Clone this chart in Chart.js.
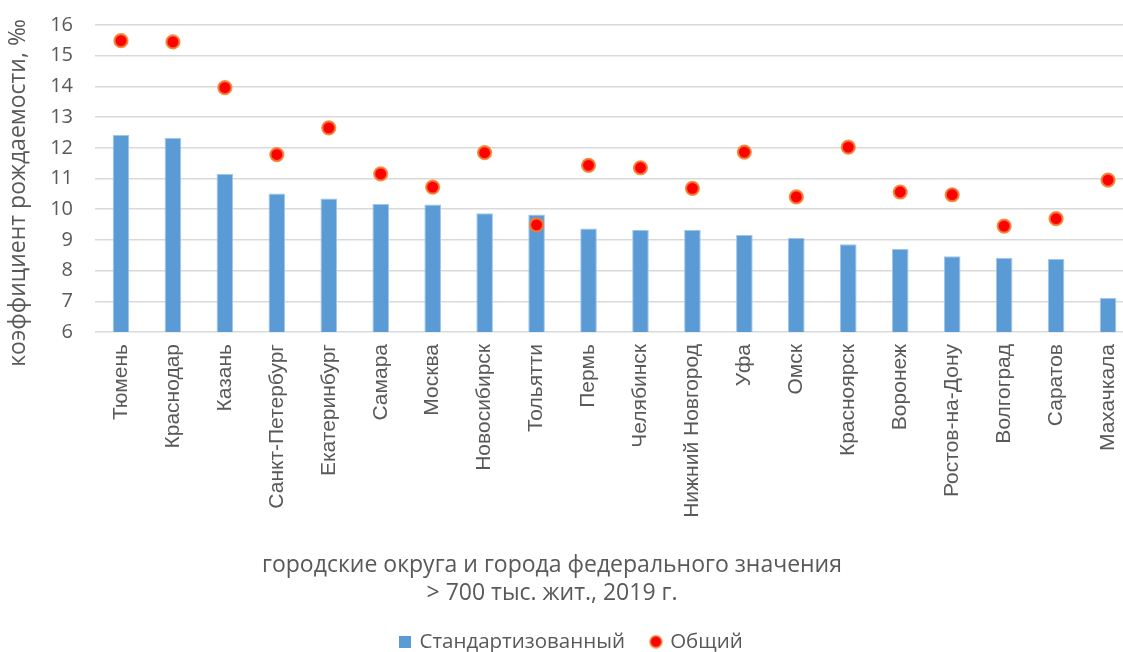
<!DOCTYPE html>
<html>
<head>
<meta charset="utf-8">
<style>
  html, body { margin: 0; padding: 0; background: #fff; overflow: hidden; width: 1123px; height: 652px; }
  #wrap { position: relative; width: 1140px; height: 662px; }
</style>
<script src="https://cdn.jsdelivr.net/npm/chart.js@4.4.1/dist/chart.umd.min.js"></script>
</head>
<body>
<div id="wrap"><canvas id="chart" width="1140" height="662"></canvas></div>
<script>
// Cities (urban districts and federal cities, population > 700k), 2019
const cities = [
  'Тюмень', 'Краснодар', 'Казань', 'Санкт-Петербург', 'Екатеринбург',
  'Самара', 'Москва', 'Новосибирск', 'Тольятти', 'Пермь',
  'Челябинск', 'Нижний Новгород', 'Уфа', 'Омск', 'Красноярск',
  'Воронеж', 'Ростов-на-Дону', 'Волгоград', 'Саратов', 'Махачкала'
];

// Standardized birth rate, per mille
const standardizedRate = [
  12.42, 12.33, 11.15, 10.51, 10.35,
  10.17, 10.15, 9.87, 9.83, 9.37,
  9.33, 9.33, 9.16, 9.06, 8.86,
  8.70, 8.47, 8.42, 8.38, 7.11
];

// Crude (general) birth rate, per mille
const crudeRate = [
  15.49, 15.45, 13.96, 11.78, 12.65,
  11.15, 10.72, 11.84, 9.49, 11.43,
  11.35, 10.68, 11.86, 10.40, 12.02,
  10.56, 10.47, 9.45, 9.69, 10.95
];

const seriesNames = ['Стандартизованный', 'Общий'];
const yAxisRange = [6, 16];
const yTickStep = 1;
const yTitle = 'коэффициент рождаемости, ‰';
const xTitle = ['городские округа и города федерального значения', '> 700 тыс. жит., 2019 г.'];

const TEXT = '#595959';
const BAR_BLUE = '#5B9BD5';
const DOT_RED = '#FF0000';
const DOT_RING = 'rgba(240,128,48,0.85)';
const UI_FONT = '"Open Sans", "Noto Sans", sans-serif';
const LABEL_FONT = '"Liberation Sans", Arial, sans-serif';

// Small legend swatches
function makeSquare(size, color) {
  const c = document.createElement('canvas');
  c.width = size; c.height = size;
  const g = c.getContext('2d');
  g.fillStyle = color;
  g.fillRect(0, 0, size, size);
  return c;
}
function makeDot(size, fill, ring) {
  const c = document.createElement('canvas');
  c.width = size; c.height = size;
  const g = c.getContext('2d');
  g.beginPath();
  g.arc(size / 2, size / 2, size / 2 - 1.2, 0, Math.PI * 2);
  g.fillStyle = fill;
  g.fill();
  g.lineWidth = 1.8;
  g.strokeStyle = ring;
  g.stroke();
  return c;
}
const legendSwatches = [makeSquare(12, BAR_BLUE), makeDot(14, DOT_RED, DOT_RING)];

// Axis titles are drawn free-standing, as in the original layout
const axisTitles = {
  id: 'axisTitles',
  afterDraw(chart) {
    const ctx = chart.ctx;
    ctx.save();
    ctx.fillStyle = TEXT;
    ctx.textAlign = 'center';
    ctx.textBaseline = 'middle';
    ctx.font = '23px ' + UI_FONT;
    ctx.save();
    ctx.translate(18, 193);
    ctx.rotate(-Math.PI / 2);
    ctx.fillText(yTitle, 0, 0);
    ctx.restore();
    ctx.fillText(xTitle[0], 552, 565);
    ctx.fillText(xTitle[1], 552, 593);
    ctx.restore();
  }
};

new Chart(document.getElementById('chart'), {
  type: 'bar',
  data: {
    labels: cities,
    datasets: [
      {
        type: 'line',
        label: seriesNames[1],
        data: crudeRate,
        showLine: false,
        pointRadius: 6.5,
        pointHoverRadius: 6.5,
        pointBackgroundColor: DOT_RED,
        pointBorderColor: DOT_RING,
        pointBorderWidth: 2.2,
        order: 0
      },
      {
        type: 'bar',
        label: seriesNames[0],
        data: standardizedRate,
        backgroundColor: BAR_BLUE,
        borderColor: '#A3C6E8',
        borderWidth: 1,
        categoryPercentage: 1,
        barPercentage: 0.32,
        order: 1
      }
    ]
  },
  options: {
    responsive: false,
    animation: false,
    devicePixelRatio: 1,
    layout: { autoPadding: false, padding: { top: 25, right: 6, left: 10, bottom: 0 } },
    plugins: {
      tooltip: { enabled: false },
      legend: {
        position: 'bottom',
        reverse: true,
        labels: {
          color: TEXT,
          font: { family: UI_FONT, size: 20.5 },
          usePointStyle: true,
          boxWidth: 8,
          padding: 27,
          generateLabels(chart) {
            const items = Chart.defaults.plugins.legend.labels.generateLabels(chart);
            items.forEach(it => {
              it.pointStyle = it.datasetIndex === 1 ? legendSwatches[0] : legendSwatches[1];
            });
            return items;
          }
        }
      }
    },
    scales: {
      x: {
        grid: { display: false, drawTicks: false },
        border: { display: false },
        ticks: {
          color: TEXT,
          font: { family: LABEL_FONT, size: 21 },
          minRotation: 90,
          maxRotation: 90,
          autoSkip: false,
          padding: 12
        },
        afterFit(scale) {
          scale.height = 272.5;
          scale.paddingTop = 0; scale.paddingBottom = 0;
          scale.paddingLeft = 0; scale.paddingRight = 0;
        }
      },
      y: {
        min: yAxisRange[0],
        max: yAxisRange[1],
        grid: { color: '#D9D9D9', lineWidth: 1.5, drawTicks: false },
        border: { display: false },
        ticks: {
          stepSize: yTickStep,
          color: TEXT,
          font: { family: UI_FONT, size: 20 },
          padding: 22
        },
        afterFit(scale) { scale.width = 85; scale.paddingTop = 0; scale.paddingBottom = 0; }
      }
    }
  },
  plugins: [axisTitles]
});
</script>
</body>
</html>
